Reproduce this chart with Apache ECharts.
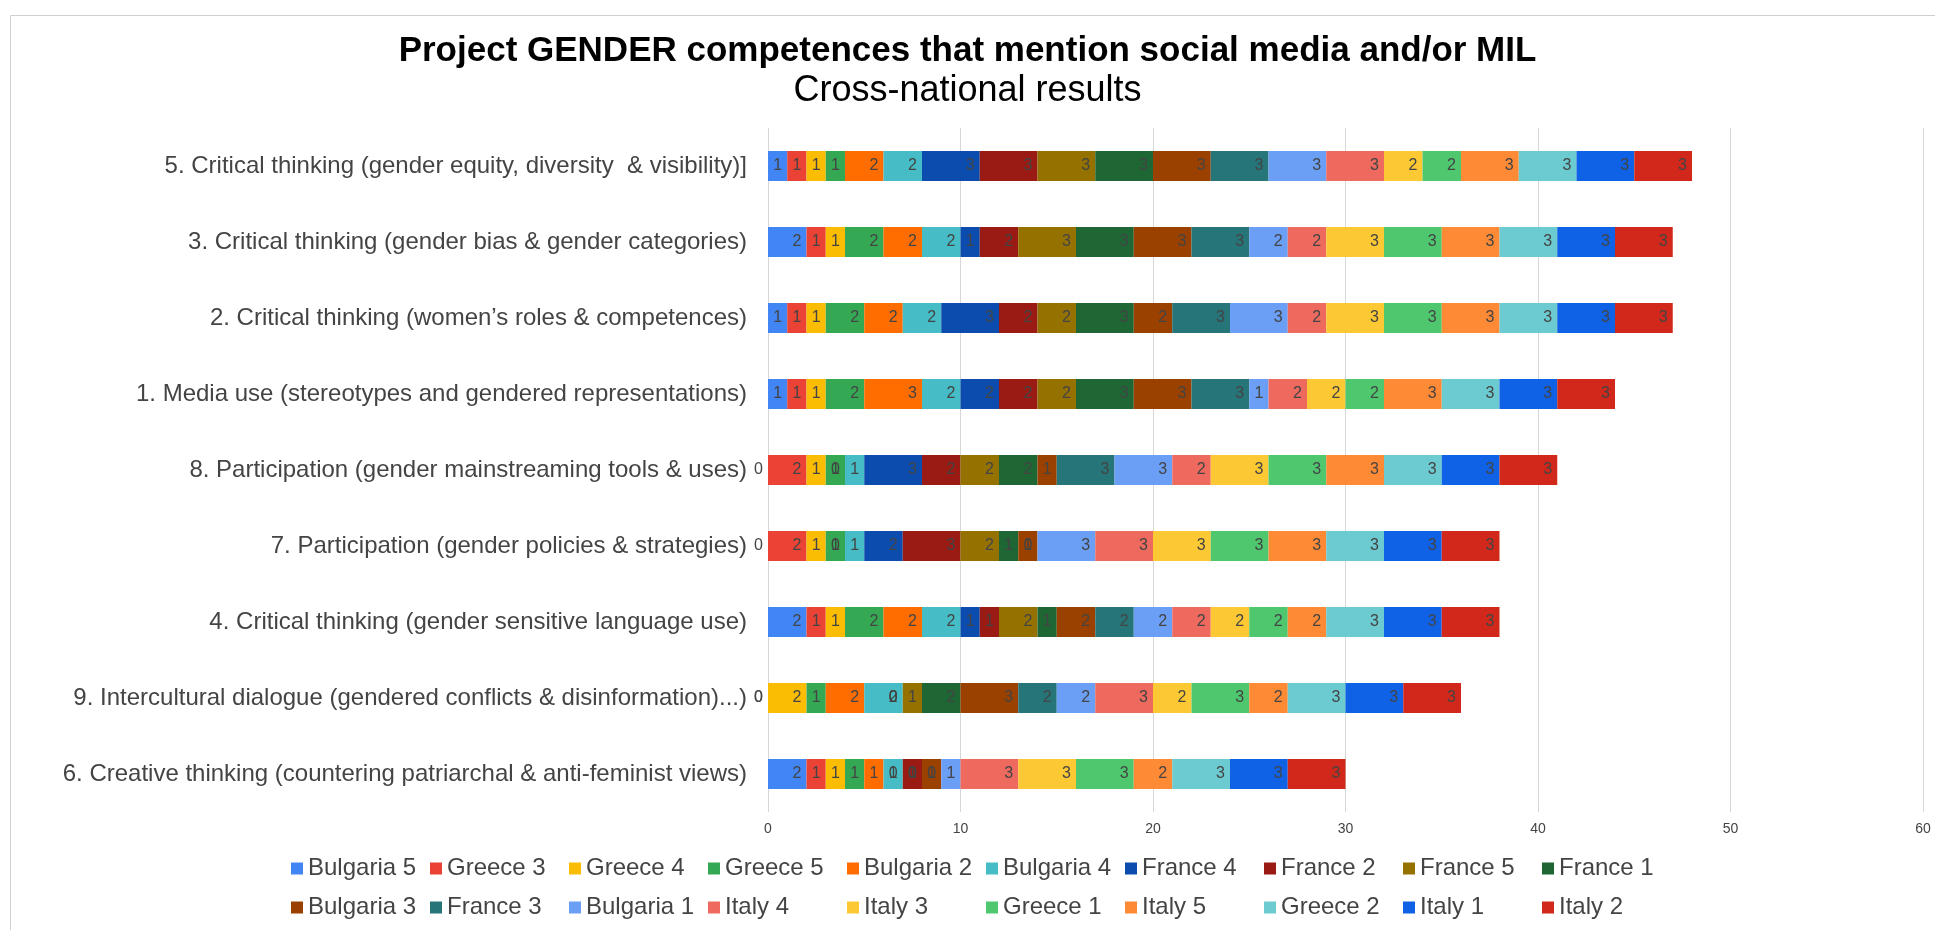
<!DOCTYPE html>
<html>
<head>
<meta charset="utf-8">
<title>Project GENDER competences</title>
<script src="https://cdn.jsdelivr.net/npm/echarts@6/dist/echarts.min.js"></script>
<style>
  html, body { margin: 0; padding: 0; background: #fff; }
  #chart { width: 1935px; height: 930px; }
</style>
</head>
<body>
<div id="chart"></div>
<script>
// Competences, top to bottom as in the chart
const competences = [
  '5. Critical thinking (gender equity, diversity  & visibility)]',
  '3. Critical thinking (gender bias & gender categories)',
  '2. Critical thinking (women\u2019s roles & competences)',
  '1. Media use (stereotypes and gendered representations)',
  '8. Participation (gender mainstreaming tools & uses)',
  '7. Participation (gender policies & strategies)',
  '4. Critical thinking (gender sensitive language use)',
  '9. Intercultural dialogue (gendered conflicts & disinformation)...)',
  '6. Creative thinking (countering patriarchal & anti-feminist views)'
];

const xTicks = [0, 10, 20, 30, 40, 50, 60];

// one array per country/partner series, same order as competences
const bulgaria5 = [1, 2, 1, 1, 0, 0, 2, 0, 2];
const greece3   = [1, 1, 1, 1, 2, 2, 1, 0, 1];
const greece4   = [1, 1, 1, 1, 1, 1, 1, 2, 1];
const greece5   = [1, 2, 2, 2, 1, 1, 2, 1, 1];
const bulgaria2 = [2, 2, 2, 3, 0, 0, 2, 2, 1];
const bulgaria4 = [2, 2, 2, 2, 1, 1, 2, 2, 1];
const france4   = [3, 1, 3, 2, 3, 2, 1, 0, 0];
const france2   = [3, 2, 2, 2, 2, 3, 1, 0, 1];
const france5   = [3, 3, 2, 2, 2, 2, 2, 1, 0];
const france1   = [3, 3, 3, 3, 2, 1, 1, 2, 0];
const bulgaria3 = [3, 3, 2, 3, 1, 1, 2, 3, 1];
const france3   = [3, 3, 3, 3, 3, 0, 2, 2, 0];
const bulgaria1 = [3, 2, 3, 1, 3, 3, 2, 2, 1];
const italy4    = [3, 2, 2, 2, 2, 3, 2, 3, 3];
const italy3    = [2, 3, 3, 2, 3, 3, 2, 2, 3];
const greece1   = [2, 3, 3, 2, 3, 3, 2, 3, 3];
const italy5    = [3, 3, 3, 3, 3, 3, 2, 2, 2];
const greece2   = [3, 3, 3, 3, 3, 3, 3, 3, 3];
const italy1    = [3, 3, 3, 3, 3, 3, 3, 3, 3];
const italy2    = [3, 3, 3, 3, 3, 3, 3, 3, 3];

const seriesNames = [
  'Bulgaria 5', 'Greece 3', 'Greece 4', 'Greece 5', 'Bulgaria 2', 'Bulgaria 4',
  'France 4', 'France 2', 'France 5', 'France 1', 'Bulgaria 3', 'France 3',
  'Bulgaria 1', 'Italy 4', 'Italy 3', 'Greece 1', 'Italy 5', 'Greece 2', 'Italy 1', 'Italy 2'
];
const seriesValues = [
  bulgaria5, greece3, greece4, greece5, bulgaria2, bulgaria4,
  france4, france2, france5, france1, bulgaria3, france3,
  bulgaria1, italy4, italy3, greece1, italy5, greece2, italy1, italy2
];

// sheets-like palette
const palette = [
  '#4285f4', '#ea4335', '#fbbc04', '#34a853', '#ff6d01', '#46bdc6',
  '#0b4cae', '#9a1b13', '#957200', '#1e6633', '#9a4100', '#257579',
  '#6b9ef5', '#ee6a5f', '#fcc934', '#4ec76e', '#ff8a35', '#6ccad1', '#0f62e6', '#d1281b'
];

const FONT = '"Liberation Sans", Arial, sans-serif';

const chart = echarts.init(document.getElementById('chart'), null, { renderer: 'canvas' });

chart.setOption({
  animation: false,
  color: palette,
  textStyle: { fontFamily: FONT },
  title: [{
    text: 'Project GENDER competences that mention social media and/or MIL',
    left: 'center',
    top: 29,
    textStyle: { fontFamily: FONT, fontSize: 35, fontWeight: 'bold', color: '#000' }
  }, {
    text: 'Cross-national results',
    left: 'center',
    top: 68,
    textStyle: { fontFamily: FONT, fontSize: 36, fontWeight: 'normal', color: '#000' }
  }],
  graphic: [{
    type: 'rect', silent: true, z: -1,
    shape: { x: 10.5, y: 15.5, width: 1940, height: 940 },
    style: { fill: 'none', stroke: '#d0d0d0', lineWidth: 1 }
  }],
  grid: { left: 768, right: 12, top: 128, bottom: 118 },
  legend: {
    data: seriesNames,
    left: 286,
    top: 844,
    width: 1420,
    icon: 'rect',
    itemWidth: 12,
    itemHeight: 12,
    itemGap: 0,
    textStyle: {
      fontFamily: FONT, fontSize: 24, color: '#444',
      width: 122, lineHeight: 39, overflow: 'none'
    }
  },
  xAxis: {
    type: 'value',
    min: xTicks[0],
    max: xTicks[xTicks.length - 1],
    interval: xTicks[1] - xTicks[0],
    axisLine: { show: false },
    axisTick: { show: false },
    axisLabel: { color: '#444', fontSize: 14, margin: 10, fontFamily: FONT },
    splitLine: { lineStyle: { color: '#d6d6d6', width: 1 } }
  },
  yAxis: {
    type: 'category',
    data: competences,
    inverse: true,
    axisLine: { show: false },
    axisTick: { show: false },
    axisLabel: { color: '#444', fontSize: 24, margin: 21, fontFamily: FONT }
  },
  series: seriesNames.map((name, i) => ({
    name,
    type: 'bar',
    stack: 'total',
    barWidth: 30,
    data: seriesValues[i],
    label: {
      show: true,
      position: 'insideRight',
      distance: 5,
      color: '#444',
      fontSize: 16,
      fontFamily: FONT
    },
    labelLayout: { hideOverlap: false }
  }))
});
</script>
</body>
</html>
